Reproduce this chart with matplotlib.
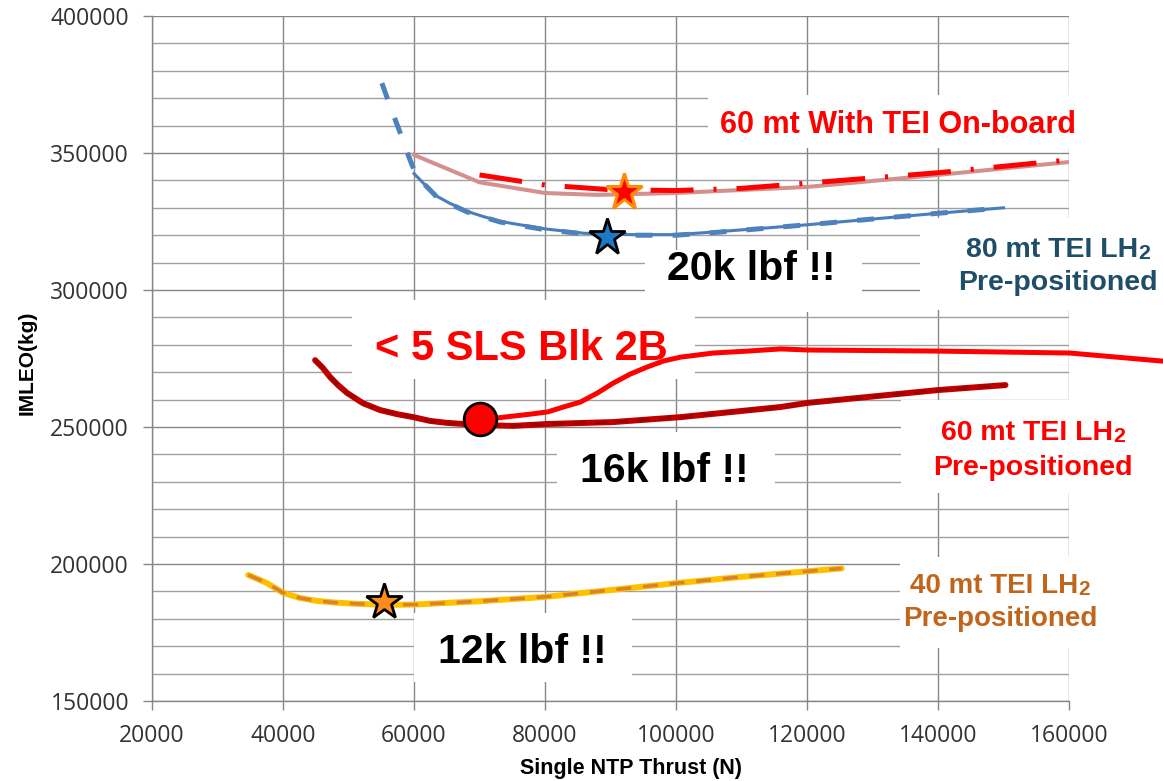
import matplotlib
matplotlib.use('Agg')  # no display
import matplotlib.pyplot as plt
from matplotlib.patches import Rectangle
from matplotlib.ticker import MultipleLocator

W, H = 1163, 781

# ── data ─────────────────────────────────────────────────
# 80 mt TEI LH2 pre-positioned (blue, solid + dashed)
blue_dash_x = [55100, 56400, 57900, 58700, 59100, 59700, 60500, 62000, 63500,
               65500, 68100, 70600, 73200, 80000, 86000, 93500, 100000, 106000,
               120000, 140000, 150000]
blue_dash_y = [375500, 366800, 357300, 352200, 349300, 345600, 341200, 337600,
               333900, 331400, 328500, 326600, 324800, 322000, 320500, 320000,
               320000, 321000, 323800, 328000, 330000]
blue_solid_x = [60000, 62000, 63500, 65500, 68100, 70600, 73200, 80000, 86000,
                93500, 100000, 106000, 120000, 140000, 150000]
blue_solid_y = [342500, 337600, 334200, 331600, 328700, 326800, 325000, 322300,
                320700, 320200, 320200, 321200, 323800, 328000, 330000]

# 60 mt with TEI on-board (pink solid + red dash-dot)
pink_x = [60000, 70000, 80000, 88000, 100000, 120000, 140000, 160000]
pink_y = [349300, 339300, 335400, 334700, 335400, 337600, 342000, 346700]
onboard_x = [70000, 80000, 90000, 100000, 110000, 120000, 140000, 160000]
onboard_y = [342000, 338300, 336600, 336300, 337100, 339000, 342800, 347500]

# 60 mt TEI LH2 pre-positioned (dark red)
lh2_60_x = [44900, 46100, 47200, 48400, 49800, 52200, 54800, 57400, 59900,
            62500, 65100, 70100, 75200, 80400, 90400, 100700, 116000, 120100,
            140100, 150300]
lh2_60_y = [274400, 271500, 268200, 265300, 262400, 258700, 256200, 254700,
            253600, 252200, 251500, 250700, 250400, 251100, 251800, 253600,
            257300, 258800, 263500, 265300]

# "< 5 SLS Blk 2B" boundary (red hand-drawn line)
sls_x = [70000, 72700, 75200, 77800, 80400, 82800, 85400, 88000, 90400, 93000,
         95600, 98100, 100700, 105700, 110900, 116000, 120100, 140100, 160100,
         174500]
sls_y = [252900, 253300, 254000, 254700, 255500, 257300, 259100, 262400,
         266000, 269300, 271900, 274100, 275500, 277000, 277700, 278500,
         278100, 277700, 277000, 274000]

# 40 mt TEI LH2 pre-positioned (yellow + orange dashes)
lh2_40_x = [34700, 37500, 40000, 42600, 45000, 48000, 51000, 56000, 60000,
            70000, 80000, 90000, 100000, 110000, 125300]
lh2_40_y = [196000, 193100, 189500, 187600, 186600, 185900, 185500, 185100,
            185200, 186400, 188000, 190500, 193000, 195300, 198400]

# optimum markers
star_onboard = (92100, 335700)
star_80 = (89500, 319300)
star_40 = (55400, 186300)
dot_sls = (70000, 252900)

x_ticks = [20000, 40000, 60000, 80000, 100000, 120000, 140000, 160000]
y_ticks = [150000, 200000, 250000, 300000, 350000, 400000]

# ── figure ───────────────────────────────────────────────
fig = plt.figure(figsize=(W / 100, H / 100), dpi=100)
ax = fig.add_axes([152 / W, 1 - 701 / H, (1069 - 152) / W, (701 - 16) / H])

grid_c = '#868686'
ax.set_xlim(20000, 160000)
ax.set_ylim(150000, 400000)
ax.set_xticks(x_ticks)
ax.set_yticks(y_ticks)
ax.yaxis.set_minor_locator(MultipleLocator(10000))
ax.set_axisbelow(True)
ax.grid(which='major', color=grid_c, lw=1.0)
ax.grid(which='minor', axis='y', color='#a0a0a0', lw=1.0)
ax.tick_params(which='major', direction='out', length=6.5, width=1.0,
               color=grid_c, labelsize=16.5, labelcolor='#333333', pad=10)
ax.tick_params(which='minor', length=0)
for lab in ax.get_xticklabels() + ax.get_yticklabels():
    lab.set_family('Open Sans')
for s in ['top', 'right']:
    ax.spines[s].set_visible(False)
for s in ['left', 'bottom']:
    ax.spines[s].set_color(grid_c)
    ax.spines[s].set_linewidth(1.0)


def px(x, y):
    return x / W, 1 - y / H


def white_box(x0, y0, x1, y1):
    ax.add_patch(Rectangle(px(x0, y1), (x1 - x0) / W, (y1 - y0) / H,
                           transform=fig.transFigure, fc='white', ec='none',
                           zorder=1.5, clip_on=False))


def label(x, y, s, color, size):
    return ax.text(*px(x, y), s, transform=fig.transFigure, ha='center',
                   va='baseline', color=color, fontsize=size,
                   fontweight='bold', family='Liberation Sans', zorder=6,
                   clip_on=False)


def lh2_label(cx, y1, y2, head, color, size):
    t = label(cx - 6, y1, head + ' LH', color, size)
    ax.annotate('2', xy=(1, 0), xycoords=t, ha='left', va='bottom',
                color=color, fontsize=size * 0.75, fontweight='bold',
                family='Liberation Sans', zorder=6)
    label(cx, y2, 'Pre-positioned', color, size)


# white label backgrounds (hide the grid behind the notes)
white_box(708, 95, 1075, 148)
white_box(645, 250, 862, 312)
white_box(920, 218, 1163, 310)
white_box(352, 300, 695, 379)
white_box(557, 432, 775, 500)
white_box(901, 400, 1163, 493)
white_box(900, 557, 1110, 648)
white_box(414, 613, 632, 682)

# curves
ax.plot(pink_x, pink_y, color='#d4908f', lw=2.9, zorder=3)
ax.plot(onboard_x, onboard_y, color='#ff0000', lw=3.6, zorder=4,
        dashes=(8.6, 4, 0.6, 4), solid_capstyle='butt')
ax.plot(blue_solid_x, blue_solid_y, color='#4a7ebb', lw=2.2, zorder=3)
ax.plot(blue_dash_x, blue_dash_y, color='#4f81bd', lw=3.6, zorder=4,
        dashes=(3.4, 4))
ax.plot(lh2_60_x, lh2_60_y, color='#c00000', lw=4.3, zorder=3,
        solid_capstyle='round')
ax.plot(lh2_60_x, lh2_60_y, color='#a00000', lw=2.2, zorder=4,
        dashes=(4, 3))
ax.plot(sls_x, sls_y, color='#ff0000', lw=3.6, zorder=4, clip_on=False,
        solid_capstyle='round')
ax.plot(lh2_40_x, lh2_40_y, color='#ffc000', lw=4.3, zorder=3,
        solid_capstyle='round')
ax.plot(lh2_40_x, lh2_40_y, color='#d9822b', lw=2.5, zorder=4,
        dashes=(4.3, 3.4))

# markers
ax.plot(*star_onboard, marker='*', ms=28, mfc='#ff0000', mec='#ff8c00',
        mew=2.2, zorder=7)
ax.plot(*star_80, marker='*', ms=28, mfc='#1f77c8', mec='black',
        mew=2.0, zorder=7)
ax.plot(*star_40, marker='*', ms=27, mfc='#ff8c1a', mec='black',
        mew=2.0, zorder=7)
ax.plot(*dot_sls, marker='o', ms=23.5, mfc='#ff0000', mec='black',
        mew=2.0, zorder=7)

# annotations
label(898, 133, '60 mt With TEI On-board', '#ff0000', 22)
label(751, 280, '20k lbf !!', 'black', 29.5)
lh2_label(1058, 257, 290, '80 mt TEI', '#1f4e68', 20.5)
label(521, 360, '< 5 SLS Blk 2B', '#ff0000', 30)
label(664, 482, '16k lbf !!', 'black', 29.5)
lh2_label(1033, 440, 475, '60 mt TEI', '#ff0000', 20.5)
lh2_label(1000, 593, 626, '40 mt TEI', '#c0651b', 20)
label(522, 663, '12k lbf !!', 'black', 29.5)

# axis titles
fig.text(*px(631, 774), 'Single NTP Thrust (N)', ha='center', va='baseline',
         fontsize=15.5, fontweight='bold', family='Liberation Sans')
fig.text(*px(33, 363), 'IMLEO(kg)', rotation=90, rotation_mode='anchor',
         ha='center', va='baseline', fontsize=15, fontweight='bold',
         family='Liberation Sans')

fig.savefig('out.png', dpi=100)
